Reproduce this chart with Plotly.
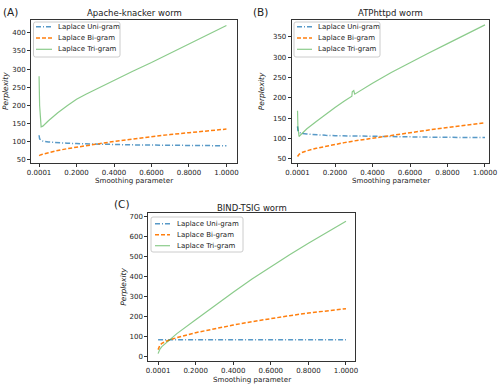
import plotly.graph_objects as go

W, H = 500, 384

# ---------------- data ----------------
# Panel A: Apache-knacker worm
x_a = [0.0001, 0.003, 0.011, 0.02, 0.05, 0.1, 0.15, 0.2, 0.25, 0.3, 0.4, 0.5, 0.6, 0.7, 0.8, 0.9, 1.0]
uni_a = [118, 108, 104, 102, 99.5, 97, 96, 95, 94.2, 93.5, 92.5, 91.5, 91, 90.5, 90, 89.5, 89]
bi_a = [62, 63, 64.5, 66, 70, 76, 81, 85.5, 89.5, 93, 101, 108, 114, 120, 125, 130, 135]
tri_a = [280, 200, 141, 143, 158, 180, 199, 217, 231, 244, 269, 294, 318, 343, 368, 394, 420]

# Panel B: ATPhttpd worm
x_b = [0.0001, 0.002, 0.01, 0.02, 0.05, 0.1, 0.15, 0.2, 0.25, 0.3, 0.4, 0.5, 0.6, 0.7, 0.8, 0.9, 1.0]
uni_b = [130, 120, 115, 113, 111, 109, 108, 107, 106.5, 106, 105, 104.5, 104, 103.5, 103, 103, 102.5]
bi_b = [56, 58, 62, 65, 70, 76, 81, 85, 90, 94, 101, 108, 115, 121, 127, 133, 139]
x_b_tri = [0.0001, 0.002, 0.008, 0.02, 0.05, 0.1, 0.15, 0.2, 0.25, 0.29, 0.292, 0.30, 0.305,
           0.35, 0.4, 0.5, 0.6, 0.7, 0.8, 0.9, 1.0]
tri_b = [168, 130, 105, 110, 124, 142, 160, 176, 192, 204, 215, 218, 209,
         222, 236, 262, 287, 310, 333, 356, 379]

# Panel C: BIND-TSIG worm
x_c = [0.0001, 0.005, 0.01, 0.02, 0.04, 0.07, 0.1, 0.2, 0.3, 0.4, 0.5, 0.6, 0.7, 0.8, 0.9, 1.0]
uni_c = [84, 84, 84, 84, 84, 84, 84, 84, 84, 84, 84, 84, 84, 84, 84, 84]
bi_c = [35, 52, 58, 66, 76, 86, 95, 120, 140, 158, 175, 191, 205, 218, 229, 240]
tri_c = [15, 28, 38, 50, 67, 88, 115, 185, 255, 322, 388, 450, 510, 568, 624, 678]

series_names = ["Laplace Uni-gram", "Laplace Bi-gram", "Laplace Tri-gram"]
panel_titles = ["Apache-knacker worm", "ATPhttpd worm", "BIND-TSIG worm"]
panel_labels = ["(A)", "(B)", "(C)"]
x_tick_vals = [0.0001, 0.2, 0.4, 0.6, 0.8, 1.0]
x_tick_text = ["0.0001", "0.2000", "0.4000", "0.6000", "0.8000", "1.0000"]
y_ticks_a = [50, 100, 150, 200, 250, 300, 350, 400]
y_ticks_b = [50, 100, 150, 200, 250, 300, 350]
y_ticks_c = [0, 100, 200, 300, 400, 500, 600, 700]

# ---------------- styling ----------------
FONT = "DejaVu Sans"
TXT = "#222222"
BLUE = "rgba(31,119,180,0.75)"
ORANGE = "#ff7f0e"
GREEN = "rgba(44,160,44,0.55)"
styles = [
    dict(color=BLUE, width=1.5, dash="5px,2px,1px,2px"),
    dict(color=ORANGE, width=1.5, dash="4px,2px"),
    dict(color=GREEN, width=1.2, dash="solid"),
]


def px(x):
    return x / W


def py(y):
    return 1 - y / H


# panel geometry in pixels: (left, right, top, bottom)
boxes = [(31, 237.3, 20, 162.5), (291.7, 489.3, 20, 163), (148.3, 355, 213, 361)]
xranges = [[-0.043, 1.058], [-0.031, 1.023], [-0.052, 1.048]]
yranges = [[43, 435], [40, 391], [-22, 719]]
yticks = [y_ticks_a, y_ticks_b, y_ticks_c]

fig = go.Figure()

data = [
    [(x_a, uni_a), (x_a, bi_a), (x_a, tri_a)],
    [(x_b, uni_b), (x_b, bi_b), (x_b_tri, tri_b)],
    [(x_c, uni_c), (x_c, bi_c), (x_c, tri_c)],
]

for i, panel in enumerate(data):
    xa = "x" if i == 0 else f"x{i+1}"
    ya = "y" if i == 0 else f"y{i+1}"
    for j, (xs, ys) in enumerate(panel):
        fig.add_trace(go.Scatter(x=xs, y=ys, mode="lines", line=styles[j],
                                 name=series_names[j], showlegend=False,
                                 xaxis=xa, yaxis=ya, hoverinfo="skip"))

axis_common = dict(showline=True, mirror=True, linecolor="#333333", linewidth=1,
                   ticks="outside", ticklen=3, tickwidth=1, tickcolor="#333333",
                   showgrid=False, zeroline=False, automargin=False,
                   tickfont=dict(family=FONT, size=7, color=TXT))

layout = dict(width=W, height=H, margin=dict(l=0, r=0, t=0, b=0, autoexpand=False),
              paper_bgcolor="white", plot_bgcolor="white", showlegend=False)

for i in range(3):
    l, r, t, b = boxes[i]
    xk = "xaxis" if i == 0 else f"xaxis{i+1}"
    yk = "yaxis" if i == 0 else f"yaxis{i+1}"
    xa = "x" if i == 0 else f"x{i+1}"
    ya = "y" if i == 0 else f"y{i+1}"
    layout[xk] = dict(axis_common, domain=[px(l), px(r)], range=xranges[i],
                      tickvals=x_tick_vals, ticktext=x_tick_text, anchor=ya)
    layout[yk] = dict(axis_common, domain=[py(b), py(t)], range=yranges[i],
                      tickvals=yticks[i], anchor=xa)

fig.update_layout(**layout)

annotations = []
shapes = []


def text(x, y, s, size, xanchor="center", angle=0):
    annotations.append(dict(x=px(x), y=py(y), xref="paper", yref="paper", text=s,
                            showarrow=False, xanchor=xanchor, yanchor="middle",
                            textangle=angle,
                            font=dict(family=FONT, size=size, color=TXT)))


label_pos = [(1, 12), (251, 12), (112, 204)]
title_pos = [(134, 12.7), (390.5, 12.7), (251.7, 207.5)]
xlabel_pos = [(134, 180.5), (390.5, 180.5), (251.7, 379.5)]
ylabel_pos = [(6, 91), (261.7, 91.5), (122.7, 287)]

for i in range(3):
    text(*label_pos[i], panel_labels[i], 10.5, xanchor="left")
    text(*title_pos[i], panel_titles[i], 8.5)
    text(*xlabel_pos[i], "Smoothing parameter", 7.1)
    text(*ylabel_pos[i], "<i>Perplexity</i>", 7.5, angle=-90)

# legends: (box left, top, right, bottom, line x0, line x1, text x, rows)
legends = [
    (33.5, 22, 120, 57, 36, 52, 56, [26.7, 38, 49.3]),
    (294, 22, 380, 57, 297, 312, 316, [26.7, 38, 49.3]),
    (151, 217, 243, 252, 155, 170, 175, [223.7, 234.7, 245.7]),
]


def rounded_rect(x0, y0, x1, y1, rad=2.0):
    X0, X1 = px(x0), px(x1)
    Y0, Y1 = py(y0), py(y1)
    rx, ry = rad / W, rad / H
    return (f"M {X0+rx},{Y0} L {X1-rx},{Y0} Q {X1},{Y0} {X1},{Y0-ry} "
            f"L {X1},{Y1+ry} Q {X1},{Y1} {X1-rx},{Y1} L {X0+rx},{Y1} "
            f"Q {X0},{Y1} {X0},{Y1+ry} L {X0},{Y0-ry} Q {X0},{Y0} {X0+rx},{Y0} Z")


for (bl, bt, br, bb, lx0, lx1, tx, rows) in legends:
    shapes.append(dict(type="path", path=rounded_rect(bl, bt, br, bb), xref="paper",
                       yref="paper", line=dict(color="#cccccc", width=1),
                       fillcolor="rgba(255,255,255,0.8)", layer="above"))
    for j, ry in enumerate(rows):
        shapes.append(dict(type="line", xref="paper", yref="paper",
                           x0=px(lx0), x1=px(lx1), y0=py(ry), y1=py(ry),
                           line=styles[j], layer="above"))
        text(tx, ry, series_names[j], 7, xanchor="left")

fig.update_layout(annotations=annotations, shapes=shapes)
fig.write_html("out.html",
               config={"displayModeBar": False, "staticPlot": True},
               post_script="document.body.style.margin='0';document.body.style.padding='0';")
